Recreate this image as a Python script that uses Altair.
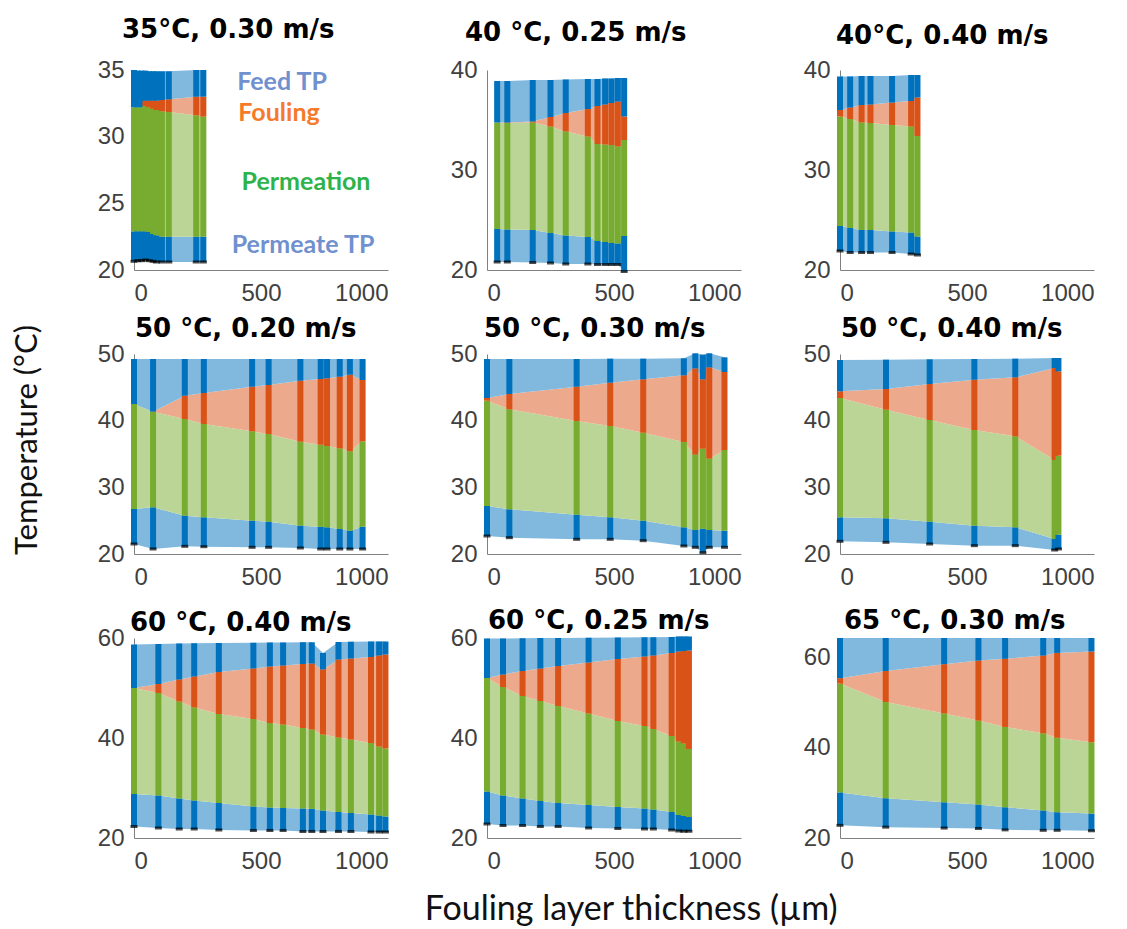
import altair as alt
import pandas as pd

# ---------------- data ----------------
BANDS = ["Permeate TP", "Permeation", "Fouling", "Feed TP"]
LIGHT = ["#80B8DE", "#BBD597", "#ECA98C", "#80B8DE"]
DARK = ["#0072BD", "#77AC30", "#D95319", "#0072BD"]

TITLES = ["35°C, 0.30 m/s", "40 °C, 0.25 m/s", "40°C, 0.40 m/s",
          "50 °C, 0.20 m/s", "50 °C, 0.30 m/s", "50 °C, 0.40 m/s",
          "60 °C, 0.40 m/s", "60 °C, 0.25 m/s", "65 °C, 0.30 m/s"]
Y_MAX = [35, 40, 40, 50, 50, 50, 60, 60, 64.3]
Y_TICKS = [[20, 25, 30, 35], [20, 30, 40], [20, 30, 40],
           [20, 30, 40, 50], [20, 30, 40, 50], [20, 30, 40, 50],
           [20, 40, 60], [20, 40, 60], [20, 40, 60]]
X_TICKS = [0, 500, 1000]

# panel 1: 35 C, 0.30 m/s
X1 = [0, 15, 30, 45, 60, 75, 88, 110, 137, 245, 273]
TF1 = [35.0, 34.95, 34.95, 34.95, 34.9, 34.9, 34.9, 34.9, 34.9, 35.0, 35.0]
TFI1 = [32.2, 32.2, 32.2, 32.7, 32.7, 32.7, 32.7, 32.75, 32.8, 33.0, 33.0]
TMF1 = [32.2, 32.2, 32.2, 32.3, 32.2, 32.1, 32.0, 31.9, 31.85, 31.6, 31.5]
TMP1 = [22.9, 22.9, 22.9, 22.9, 22.85, 22.7, 22.6, 22.5, 22.5, 22.5, 22.5]
TP1 = [20.65, 20.7, 20.7, 20.75, 20.7, 20.65, 20.6, 20.6, 20.6, 20.6, 20.6]

# panel 2: 40 C, 0.25 m/s
X2 = [40, 80, 180, 250, 310, 397, 435, 465, 490, 515, 540]
TF2 = [38.9, 38.9, 39.0, 39.0, 39.05, 39.1, 39.1, 39.15, 39.15, 39.2, 39.2]
TFI2 = [34.75, 34.75, 34.85, 35.3, 35.7, 36.1, 36.4, 36.55, 36.7, 36.85, 35.35]
TMF2 = [34.75, 34.7, 34.75, 34.35, 33.85, 33.35, 32.6, 32.55, 32.5, 32.35, 33.0]
TMP2 = [24.1, 24.05, 24.0, 23.7, 23.45, 23.3, 22.9, 22.8, 22.7, 22.65, 23.4]
TP2 = [20.8, 20.8, 20.75, 20.7, 20.6, 20.6, 20.55, 20.55, 20.55, 20.55, 19.85]

# panel 3: 40 C, 0.40 m/s
X3 = [0, 40, 85, 120, 205, 280, 305]
TF3 = [39.35, 39.35, 39.4, 39.4, 39.4, 39.5, 39.5]
TFI3 = [36.0, 36.25, 36.5, 36.55, 36.75, 36.9, 37.25]
TMF3 = [35.35, 35.1, 34.75, 34.7, 34.5, 34.35, 33.4]
TMP3 = [24.4, 24.2, 24.0, 24.0, 23.85, 23.75, 23.35]
TP3 = [21.9, 21.75, 21.75, 21.75, 21.75, 21.6, 21.5]

# panel 4: 50 C, 0.20 m/s
X4 = [0, 75, 200, 275, 465, 530, 655, 735, 760, 810, 850, 900]
TF4 = [49.25, 49.25, 49.25, 49.25, 49.25, 49.25, 49.25, 49.25, 49.25, 49.25, 49.25, 49.25]
TFI4 = [42.5, 41.35, 43.75, 44.15, 45.1, 45.35, 46.0, 46.25, 46.35, 46.6, 46.9, 46.1]
TMF4 = [42.5, 41.35, 40.25, 39.5, 38.4, 38.0, 36.85, 36.4, 36.2, 35.85, 35.4, 36.9]
TMP4 = [26.75, 27.0, 25.75, 25.5, 25.0, 24.85, 24.25, 24.1, 24.0, 23.75, 23.5, 24.1]
TP4 = [21.5, 20.75, 21.15, 21.1, 21.0, 21.0, 20.9, 20.75, 20.75, 20.75, 20.75, 20.75]

# panel 5: 50 C, 0.30 m/s
X5 = [0, 88, 353, 485, 615, 775, 820, 850, 875, 935]
TF5 = [49.25, 49.25, 49.25, 49.3, 49.3, 49.35, 50.1, 49.9, 50.1, 49.5]
TFI5 = [43.4, 44.0, 45.1, 45.7, 46.2, 46.8, 47.85, 46.2, 48.0, 47.3]
TMF5 = [43.0, 41.7, 39.95, 39.2, 38.2, 36.8, 34.9, 35.8, 34.3, 35.6]
TMP5 = [27.2, 26.7, 25.9, 25.5, 25.0, 24.0, 23.6, 23.8, 23.6, 23.5]
TP5 = [22.7, 22.45, 22.2, 22.2, 22.0, 21.2, 21.0, 20.2, 21.0, 21.0]

# panel 6: 50 C, 0.40 m/s
X6 = [0, 181, 353, 529, 690, 845, 860]
TF6 = [49.1, 49.15, 49.2, 49.25, 49.3, 49.4, 49.4]
TFI6 = [44.4, 44.75, 45.5, 46.15, 46.5, 47.9, 47.4]
TMF6 = [43.4, 41.65, 40.1, 38.6, 37.65, 34.1, 34.75]
TMP6 = [25.5, 25.35, 24.85, 24.25, 24.0, 22.25, 22.9]
TP6 = [21.9, 21.75, 21.5, 21.25, 21.25, 20.6, 20.75]

# panel 7: 60 C, 0.40 m/s
X7 = [0, 96, 178, 237, 334, 470, 535, 587, 665, 700, 744, 805, 854, 933, 965, 990]
TF7 = [58.7, 58.8, 58.9, 58.95, 59.0, 59.05, 59.1, 59.1, 59.15, 59.15, 57.0, 59.2, 59.25, 59.3, 59.3, 59.3]
TFI7 = [50.0, 50.8, 51.7, 52.3, 53.2, 53.9, 54.3, 54.5, 54.8, 54.9, 53.7, 55.7, 55.9, 56.2, 56.5, 56.7]
TMF7 = [50.0, 49.0, 47.3, 46.1, 44.8, 43.8, 43.0, 42.7, 42.0, 41.7, 40.7, 40.1, 39.7, 39.0, 38.3, 37.9]
TMP7 = [28.8, 28.5, 27.9, 27.5, 27.0, 26.3, 26.1, 26.0, 25.9, 25.85, 25.5, 25.2, 25.0, 24.7, 24.5, 24.3]
TP7 = [22.3, 22.0, 21.8, 21.8, 21.6, 21.5, 21.5, 21.5, 21.3, 21.3, 21.3, 21.3, 21.3, 21.2, 21.2, 21.2]

# panel 8: 60 C, 0.25 m/s
X8 = [0, 63, 140, 210, 280, 400, 515, 620, 655, 727, 755, 775, 795]
TF8 = [59.9, 59.9, 59.95, 60.0, 60.0, 60.05, 60.1, 60.15, 60.15, 60.2, 60.3, 60.3, 60.3]
TFI8 = [52.0, 52.7, 53.4, 53.9, 54.4, 55.1, 55.8, 56.3, 56.5, 57.0, 57.3, 57.4, 57.5]
TMF8 = [52.0, 50.2, 48.4, 47.4, 46.4, 44.9, 43.4, 42.4, 41.8, 40.4, 39.3, 38.9, 37.8]
TMP8 = [29.3, 28.5, 27.9, 27.4, 27.0, 26.6, 26.2, 25.9, 25.7, 25.2, 24.6, 24.4, 24.2]
TP8 = [22.8, 22.5, 22.5, 22.3, 22.3, 22.0, 21.9, 21.8, 21.8, 21.6, 21.4, 21.35, 21.35]

# panel 9: 65 C, 0.30 m/s
X9 = [0, 180, 410, 545, 650, 800, 855, 990]
TF9 = [64.3, 64.3, 64.3, 64.3, 64.3, 64.3, 64.3, 64.3]
TFI9 = [55.4, 57.0, 58.5, 59.3, 59.7, 60.4, 61.0, 61.3]
TMF9 = [54.2, 50.1, 47.6, 46.0, 44.6, 43.2, 42.2, 41.2]
TMP9 = [30.1, 28.8, 27.9, 27.4, 26.8, 26.1, 25.7, 25.4]
TP9 = [22.8, 22.4, 22.2, 22.1, 21.8, 21.7, 21.7, 21.6]

PANELS = [
    (X1, TP1, TMP1, TMF1, TFI1, TF1),
    (X2, TP2, TMP2, TMF2, TFI2, TF2),
    (X3, TP3, TMP3, TMF3, TFI3, TF3),
    (X4, TP4, TMP4, TMF4, TFI4, TF4),
    (X5, TP5, TMP5, TMF5, TFI5, TF5),
    (X6, TP6, TMP6, TMF6, TFI6, TF6),
    (X7, TP7, TMP7, TMF7, TFI7, TF7),
    (X8, TP8, TMP8, TMF8, TFI8, TF8),
    (X9, TP9, TMP9, TMF9, TFI9, TF9),
]

# ---------------- style ----------------
W, H = 254, 200
TITLE_OFFSET = [-6, -9, -12, -21, -21, -21, -31, -29, -20]
TITLE_DX = [-12, -22, -4, 1, -3, 1, -4, 1, 4]
AXIS_COLOR = "#808080"
LABEL_COLOR = "#404040"


def panel(i):
    xs, tp, tmp, tmf, tfi, tf = PANELS[i]
    rows = []
    for k, x in enumerate(xs):
        b = [tp[k], tmp[k], tmf[k], tfi[k], tf[k]]
        for j, name in enumerate(BANDS):
            rows.append({"x": x, "band": name, "lo": b[j], "hi": b[j + 1]})
    df = pd.DataFrame(rows)
    pts = pd.DataFrame({"x": xs, "tp": tp})

    xsc = alt.Scale(domain=[0, 1000], nice=False, zero=False)
    ysc = alt.Scale(domain=[20, Y_MAX[i]], nice=False, zero=False)
    xax = alt.Axis(values=X_TICKS, format="d", grid=False, ticks=False, labelPadding=11,
                   domainColor=AXIS_COLOR, labelColor=LABEL_COLOR,
                   labelFont="Liberation Sans", labelFontSize=24, title=None)
    yax = alt.Axis(values=Y_TICKS[i], grid=False, ticks=False, labelPadding=10,
                   domainColor=AXIS_COLOR, labelColor=LABEL_COLOR,
                   labelFont="Liberation Sans", labelFontSize=24, title=None)

    base = alt.Chart(df)
    area = base.mark_area(interpolate="linear").encode(
        x=alt.X("x:Q", scale=xsc, axis=xax),
        y=alt.Y("lo:Q", scale=ysc, axis=yax, stack=None),
        y2="hi:Q",
        color=alt.Color("band:N", scale=alt.Scale(domain=BANDS, range=LIGHT), legend=None),
        detail="band:N",
    )
    stripes = base.mark_rule(strokeWidth=6, strokeCap="butt").encode(
        x=alt.X("x:Q", scale=xsc),
        y=alt.Y("lo:Q", scale=ysc),
        y2="hi:Q",
        color=alt.Color("band:N", scale=alt.Scale(domain=BANDS, range=DARK), legend=None),
    )
    ticks = alt.Chart(pts).mark_tick(orient="horizontal", size=7, thickness=3, color="black").encode(
        x=alt.X("x:Q", scale=xsc),
        y=alt.Y("tp:Q", scale=ysc),
    )
    layers = [area, stripes, ticks]
    if i == 0:
        lab = alt.Chart(pd.DataFrame({"t": [0]}))
        spec = [("Feed TP", "#7090CE", 148, 12), ("Fouling", "#F57A2A", 145, 43),
                ("Permeation", "#2DB34A", 172, 112), ("Permeate TP", "#7090CE", 169, 175)]
        for text, col, px, py in spec:
            layers.append(lab.mark_text(font="Lato", fontWeight="bold", fontSize=25,
                                        color=col, baseline="middle", align="center").encode(
                x=alt.value(px), y=alt.value(py), text=alt.value(text)))
    return alt.layer(*layers).resolve_scale(color="independent").properties(
        width=W, height=H,
        view=alt.ViewBackground(stroke="transparent", strokeWidth=0),
        title=alt.TitleParams(TITLES[i], anchor="start", frame="group", font="DejaVu Sans",
                              fontWeight="bold", fontSize=26, color="black",
                              offset=TITLE_OFFSET[i], dx=TITLE_DX[i], baseline="alphabetic"),
    )


grid = alt.concat(*[panel(i) for i in range(9)], columns=3,
                  spacing=alt.RowColnumber(row=84, column=99), bounds="flush",
                  title=alt.TitleParams("Fouling layer thickness (µm)", orient="bottom",
                                        font="Lato", fontSize=34, fontWeight="normal",
                                        color="#111111", offset=20, dx=35, anchor="middle"))

chart = alt.hconcat(grid,
                    title=alt.TitleParams("Temperature (°C)", orient="left", font="Lato",
                                          fontSize=31, fontWeight="normal", color="#111111",
                                          offset=53, dx=32, anchor="middle")).properties(
    padding={"left": 12, "top": 17, "right": 5, "bottom": 5}
).configure_view(stroke="transparent", strokeWidth=0).configure(background="white")

chart.save("out.html", embed_options={"renderer": "svg", "actions": False})
